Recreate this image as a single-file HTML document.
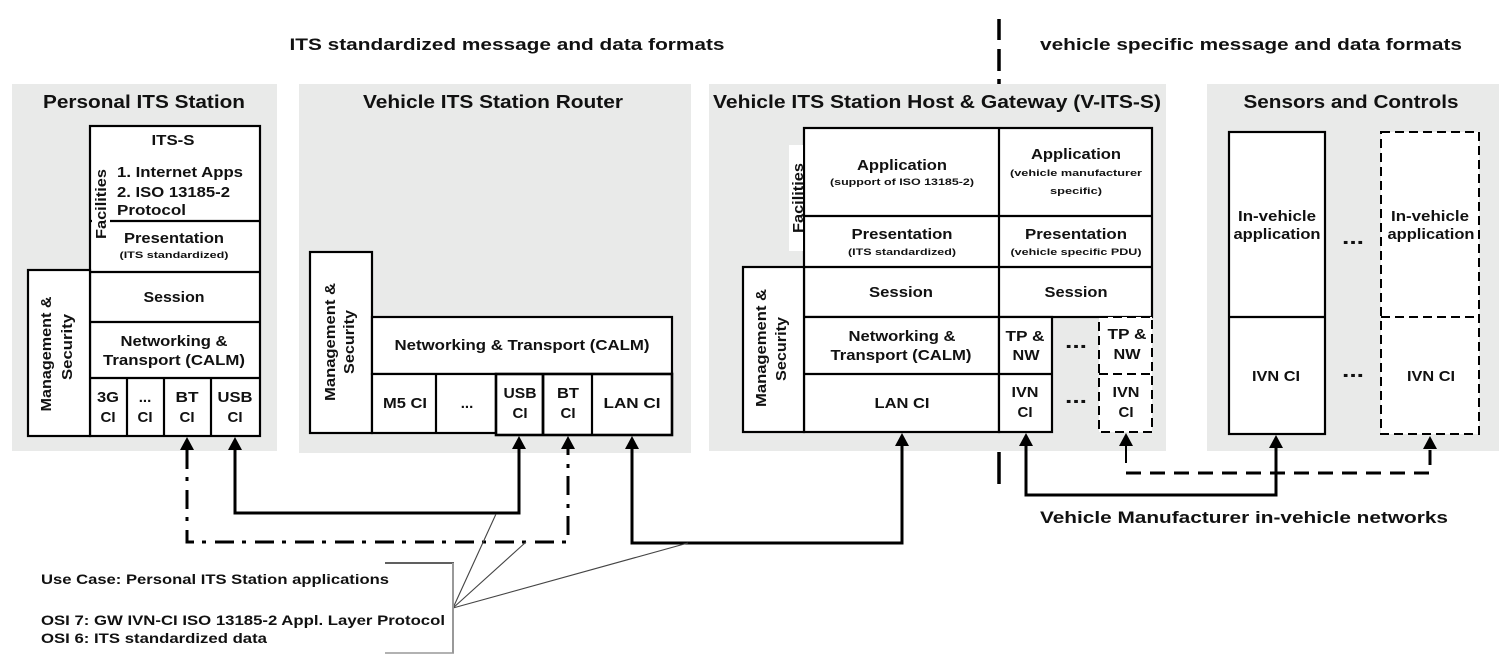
<!DOCTYPE html>
<html>
<head>
<meta charset="utf-8">
<style>
html,body{margin:0;padding:0;background:#fff;}
svg{display:block;}
</style>
</head>
<body>
<svg width="1510" height="662" viewBox="0 0 1510 662" xmlns="http://www.w3.org/2000/svg" font-family="'Liberation Sans', Arial, sans-serif" font-weight="bold" fill="#111">
  <rect x="0" y="0" width="1510" height="662" fill="#fff"/>

  <!-- top labels -->
  <text x="507" y="50" font-size="17" text-anchor="middle" textLength="435" lengthAdjust="spacingAndGlyphs">ITS standardized message and data formats</text>
  <text x="1251" y="50" font-size="17" text-anchor="middle" textLength="422" lengthAdjust="spacingAndGlyphs">vehicle specific message and data formats</text>
  <!-- separator -->
  <g stroke="#000" stroke-width="3.5">
    <line x1="999" y1="19" x2="999" y2="40"/>
    <line x1="999" y1="49" x2="999" y2="71"/>
    <line x1="999" y1="79" x2="999" y2="84"/>
    <line x1="999" y1="452" x2="999" y2="484"/>
  </g>

  <!-- panels -->
  <g fill="#e9eae9">
    <rect x="12" y="84" width="265" height="367"/>
    <rect x="299" y="84" width="392" height="369"/>
    <rect x="709" y="84" width="457" height="367"/>
    <rect x="1207" y="84" width="292" height="367"/>
  </g>

  <!-- titles -->
  <g font-size="18" text-anchor="middle">
    <text x="144" y="108" textLength="202" lengthAdjust="spacingAndGlyphs">Personal ITS Station</text>
    <text x="493" y="108" textLength="260" lengthAdjust="spacingAndGlyphs">Vehicle ITS Station Router</text>
    <text x="937" y="108" textLength="448" lengthAdjust="spacingAndGlyphs">Vehicle ITS Station Host &amp; Gateway (V-ITS-S)</text>
    <text x="1351" y="108" textLength="215" lengthAdjust="spacingAndGlyphs">Sensors and Controls</text>
  </g>

  <!-- ===== Panel 1 ===== -->
  <g fill="#fff" stroke="#000" stroke-width="2.2">
    <rect x="90" y="126" width="170" height="310"/>
    <rect x="28" y="270" width="62" height="166"/>
  </g>
  <g stroke="#000" stroke-width="2.2">
    <line x1="90" y1="221" x2="260" y2="221"/>
    <line x1="90" y1="272" x2="260" y2="272"/>
    <line x1="90" y1="322" x2="260" y2="322"/>
    <line x1="90" y1="378" x2="260" y2="378"/>
    <line x1="127" y1="378" x2="127" y2="436"/>
    <line x1="164" y1="378" x2="164" y2="436"/>
    <line x1="211" y1="378" x2="211" y2="436"/>
  </g>
  <rect x="92" y="164" width="18" height="80" fill="#fff"/>
  <text transform="translate(106,204) rotate(-90)" font-size="15" text-anchor="middle" textLength="70" lengthAdjust="spacingAndGlyphs">Facilities</text>
  <g font-size="15">
    <text x="173" y="145" text-anchor="middle" textLength="43" lengthAdjust="spacingAndGlyphs">ITS-S</text>
    <text x="117" y="177" textLength="126" lengthAdjust="spacingAndGlyphs">1. Internet Apps</text>
    <text x="117" y="197" textLength="113" lengthAdjust="spacingAndGlyphs">2. ISO 13185-2</text>
    <text x="117" y="215" textLength="69" lengthAdjust="spacingAndGlyphs">Protocol</text>
    <text x="174" y="243" text-anchor="middle" textLength="100" lengthAdjust="spacingAndGlyphs">Presentation</text>
    <text x="174" y="302" text-anchor="middle" textLength="61" lengthAdjust="spacingAndGlyphs">Session</text>
    <text x="174" y="346" text-anchor="middle" textLength="107" lengthAdjust="spacingAndGlyphs">Networking &amp;</text>
    <text x="174" y="365" text-anchor="middle" textLength="142" lengthAdjust="spacingAndGlyphs">Transport (CALM)</text>
    <text x="108" y="402" text-anchor="middle" textLength="22" lengthAdjust="spacingAndGlyphs">3G</text>
    <text x="108" y="422" text-anchor="middle">CI</text>
    <text x="145" y="402" text-anchor="middle">...</text>
    <text x="145" y="422" text-anchor="middle">CI</text>
    <text x="187" y="402" text-anchor="middle" textLength="23" lengthAdjust="spacingAndGlyphs">BT</text>
    <text x="187" y="422" text-anchor="middle">CI</text>
    <text x="235" y="402" text-anchor="middle" textLength="35" lengthAdjust="spacingAndGlyphs">USB</text>
    <text x="235" y="422" text-anchor="middle">CI</text>
  </g>
  <text x="174" y="258" font-size="9.5" text-anchor="middle" textLength="109" lengthAdjust="spacingAndGlyphs">(ITS standardized)</text>
  <text transform="translate(51,354) rotate(-90)" font-size="15" text-anchor="middle" textLength="115" lengthAdjust="spacingAndGlyphs">Management &amp;</text>
  <text transform="translate(72,347) rotate(-90)" font-size="15" text-anchor="middle" textLength="66" lengthAdjust="spacingAndGlyphs">Security</text>

  <!-- ===== Panel 2 ===== -->
  <g fill="#fff" stroke="#000" stroke-width="2.2">
    <rect x="310" y="252" width="62" height="181"/>
    <rect x="372" y="317" width="300" height="57"/>
    <rect x="372" y="374" width="124" height="59"/>
    <rect x="496" y="374" width="176" height="61" stroke-width="2.6"/>
  </g>
  <g stroke="#000" stroke-width="2.2">
    <line x1="436" y1="374" x2="436" y2="433"/>
    <line x1="543" y1="374" x2="543" y2="435" stroke-width="2.8"/>
    <line x1="592" y1="374" x2="592" y2="435"/>
  </g>
  <g font-size="15" text-anchor="middle">
    <text x="522" y="350" textLength="255" lengthAdjust="spacingAndGlyphs">Networking &amp; Transport (CALM)</text>
    <text x="405" y="408" textLength="44" lengthAdjust="spacingAndGlyphs">M5 CI</text>
    <text x="467" y="408">...</text>
    <text x="520" y="398" textLength="33" lengthAdjust="spacingAndGlyphs">USB</text>
    <text x="520" y="418">CI</text>
    <text x="568" y="398" textLength="22" lengthAdjust="spacingAndGlyphs">BT</text>
    <text x="568" y="418">CI</text>
    <text x="632" y="408" textLength="57" lengthAdjust="spacingAndGlyphs">LAN CI</text>
  </g>
  <text transform="translate(335,342) rotate(-90)" font-size="15" text-anchor="middle" textLength="118" lengthAdjust="spacingAndGlyphs">Management &amp;</text>
  <text transform="translate(354,342) rotate(-90)" font-size="15" text-anchor="middle" textLength="64" lengthAdjust="spacingAndGlyphs">Security</text>

  <!-- ===== Panel 3 ===== -->
  <g fill="#fff" stroke="#000" stroke-width="2.2">
    <rect x="804" y="128" width="348" height="189"/>
    <rect x="804" y="317" width="195" height="115"/>
    <rect x="999" y="317" width="53" height="115"/>
    <rect x="743" y="267" width="61" height="165"/>
  </g>
  <g stroke="#000" stroke-width="2.2">
    <line x1="999" y1="128" x2="999" y2="317"/>
    <line x1="804" y1="216" x2="1152" y2="216"/>
    <line x1="804" y1="267" x2="1152" y2="267"/>
    <line x1="804" y1="374" x2="1052" y2="374"/>
  </g>
  <g fill="#fff" stroke="#000" stroke-width="2" stroke-dasharray="9 5">
    <rect x="1099" y="317" width="53" height="115"/>
    <line x1="1099" y1="374" x2="1152" y2="374"/>
  </g>
  <rect x="789" y="145" width="14" height="106" fill="#fff"/>
  <text transform="translate(803,198) rotate(-90)" font-size="15" text-anchor="middle" textLength="70" lengthAdjust="spacingAndGlyphs">Facilities</text>
  <g font-size="15" text-anchor="middle">
    <text x="902" y="170" textLength="90" lengthAdjust="spacingAndGlyphs">Application</text>
    <text x="1076" y="159" textLength="90" lengthAdjust="spacingAndGlyphs">Application</text>
    <text x="902" y="239" textLength="101" lengthAdjust="spacingAndGlyphs">Presentation</text>
    <text x="1076" y="239" textLength="102" lengthAdjust="spacingAndGlyphs">Presentation</text>
    <text x="901" y="297" textLength="64" lengthAdjust="spacingAndGlyphs">Session</text>
    <text x="1076" y="297" textLength="63" lengthAdjust="spacingAndGlyphs">Session</text>
    <text x="902" y="341" textLength="107" lengthAdjust="spacingAndGlyphs">Networking &amp;</text>
    <text x="901" y="360" textLength="141" lengthAdjust="spacingAndGlyphs">Transport (CALM)</text>
    <text x="1025" y="341" textLength="39" lengthAdjust="spacingAndGlyphs">TP &amp;</text>
    <text x="1026" y="360" textLength="27" lengthAdjust="spacingAndGlyphs">NW</text>
    <text x="1127" y="339" textLength="39" lengthAdjust="spacingAndGlyphs">TP &amp;</text>
    <text x="1127" y="359" textLength="27" lengthAdjust="spacingAndGlyphs">NW</text>
    <text x="902" y="408" textLength="55" lengthAdjust="spacingAndGlyphs">LAN CI</text>
    <text x="1025" y="397" textLength="27" lengthAdjust="spacingAndGlyphs">IVN</text>
    <text x="1025" y="417">CI</text>
    <text x="1126" y="397" textLength="27" lengthAdjust="spacingAndGlyphs">IVN</text>
    <text x="1126" y="417">CI</text>
  </g>
  <g font-size="20" text-anchor="middle">
    <text x="1076" y="348" textLength="22" lengthAdjust="spacingAndGlyphs">...</text>
    <text x="1076" y="403" textLength="22" lengthAdjust="spacingAndGlyphs">...</text>
    <text x="1353" y="244" textLength="22" lengthAdjust="spacingAndGlyphs">...</text>
    <text x="1353" y="377" textLength="22" lengthAdjust="spacingAndGlyphs">...</text>
  </g>
  <g font-size="9.5" text-anchor="middle">
    <text x="902" y="185" textLength="144" lengthAdjust="spacingAndGlyphs">(support of ISO 13185-2)</text>
    <text x="1076" y="176" textLength="132" lengthAdjust="spacingAndGlyphs">(vehicle manufacturer</text>
    <text x="1076" y="194" textLength="52" lengthAdjust="spacingAndGlyphs">specific)</text>
    <text x="902" y="255" textLength="108" lengthAdjust="spacingAndGlyphs">(ITS standardized)</text>
    <text x="1076" y="255" textLength="131" lengthAdjust="spacingAndGlyphs">(vehicle specific PDU)</text>
  </g>
  <text transform="translate(766,348) rotate(-90)" font-size="15" text-anchor="middle" textLength="118" lengthAdjust="spacingAndGlyphs">Management &amp;</text>
  <text transform="translate(786,349) rotate(-90)" font-size="15" text-anchor="middle" textLength="64" lengthAdjust="spacingAndGlyphs">Security</text>

  <!-- ===== Panel 4 ===== -->
  <g fill="#fff" stroke="#000" stroke-width="2.2">
    <rect x="1229" y="132" width="96" height="302"/>
    <line x1="1229" y1="317" x2="1325" y2="317"/>
  </g>
  <g fill="#fff" stroke="#000" stroke-width="2" stroke-dasharray="9 5">
    <rect x="1381" y="132" width="98" height="302"/>
    <line x1="1381" y1="317" x2="1479" y2="317"/>
  </g>
  <g font-size="15" text-anchor="middle">
    <text x="1277" y="221" textLength="78" lengthAdjust="spacingAndGlyphs">In-vehicle</text>
    <text x="1277" y="239" textLength="87" lengthAdjust="spacingAndGlyphs">application</text>
    <text x="1430" y="221" textLength="78" lengthAdjust="spacingAndGlyphs">In-vehicle</text>
    <text x="1431" y="239" textLength="87" lengthAdjust="spacingAndGlyphs">application</text>
    <text x="1276" y="381" textLength="48" lengthAdjust="spacingAndGlyphs">IVN CI</text>
    <text x="1431" y="381" textLength="48" lengthAdjust="spacingAndGlyphs">IVN CI</text>
  </g>

  <!-- ===== Connectors ===== -->
  <g fill="none" stroke="#000" stroke-width="3">
    <polyline points="235,448 235,513 519,513 519,447"/>
    <polyline points="632,447 632,543 902,543 902,444"/>
    <polyline points="1026,444 1026,495 1276,495 1276,446"/>
    <polyline points="187,450 187,542 568,542 568,448" stroke-dasharray="19 8 4 9"/>
    <polyline points="1126,473 1430,473 1430,448" stroke-dasharray="15 9"/>
  </g>
  <line x1="1126" y1="444" x2="1126" y2="463" stroke="#000" stroke-width="2"/>

  <!-- arrowheads -->
  <g fill="#000">
    <polygon points="187,437 180,450 194,450"/>
    <polygon points="235,437 228,450 242,450"/>
    <polygon points="519,436 512,449 526,449"/>
    <polygon points="568,436 561,449 575,449"/>
    <polygon points="632,436 625,449 639,449"/>
    <polygon points="902,433 895,446 909,446"/>
    <polygon points="1026,433 1019,446 1033,446"/>
    <polygon points="1126,433 1119,446 1133,446"/>
    <polygon points="1276,435 1269,448 1283,448"/>
    <polygon points="1430,436 1423,449 1437,449"/>
  </g>

  <text x="1244" y="523" font-size="17" text-anchor="middle" textLength="408" lengthAdjust="spacingAndGlyphs">Vehicle Manufacturer in-vehicle networks</text>

  <!-- ===== Callout ===== -->
  <g stroke="#444" stroke-width="1.1" fill="none">
    <line x1="453" y1="608" x2="496" y2="514"/>
    <line x1="453" y1="608" x2="526" y2="542"/>
    <line x1="453" y1="608" x2="688" y2="543"/>
  </g>
  <line x1="385" y1="563" x2="454" y2="563" stroke="#000" stroke-width="1.2"/>
  <line x1="453" y1="563" x2="453" y2="653" stroke="#999" stroke-width="2"/>
  <line x1="385" y1="653" x2="454" y2="653" stroke="#999" stroke-width="1.5"/>
  <g font-size="14">
    <text x="41" y="584" textLength="348" lengthAdjust="spacingAndGlyphs">Use Case: Personal ITS Station applications</text>
    <text x="41" y="625" textLength="404" lengthAdjust="spacingAndGlyphs">OSI 7: GW IVN-CI ISO 13185-2 Appl. Layer Protocol</text>
    <text x="41" y="643" textLength="226" lengthAdjust="spacingAndGlyphs">OSI 6: ITS standardized data</text>
  </g>
</svg>
</body>
</html>
